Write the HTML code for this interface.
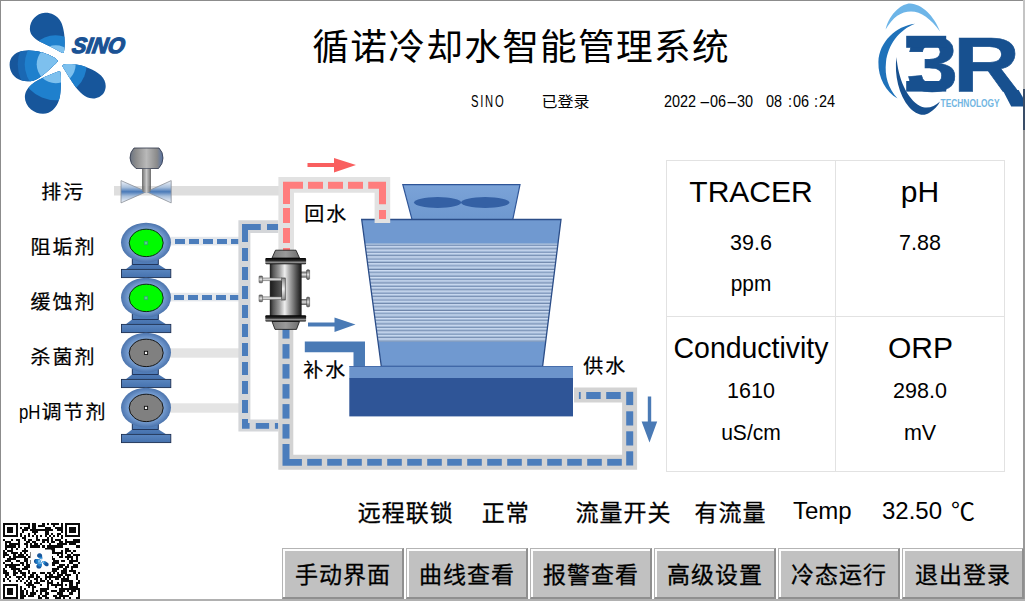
<!DOCTYPE html>
<html lang="zh-CN"><head><meta charset="utf-8"><title>循诺冷却水智能管理系统</title>
<style>
html,body{margin:0;padding:0;background:#fff;}
body{width:1025px;height:601px;overflow:hidden;position:relative;font-family:"Liberation Sans", "Noto Sans CJK SC", sans-serif;color:#000;}
#g{position:absolute;left:0;top:0;}
.t{position:absolute;white-space:nowrap;line-height:1;color:#000;}
.c{text-align:center;}
.k{-webkit-text-stroke:0.3px #000;}
.m{font-family:"Liberation Mono", "Noto Sans CJK SC", monospace;}
.btn{position:absolute;top:548px;height:51px;width:122px;box-sizing:border-box;background:#c1c1c1;
 border-top:1px solid #b4b4b4;border-left:1px solid #b4b4b4;border-right:2px solid #8f8f8f;border-bottom:2px solid #8f8f8f;
 box-shadow:inset 2px 2px 0 #fdfdfd;
 font-size:23px;letter-spacing:1px;line-height:1;text-align:center;white-space:nowrap;-webkit-text-stroke:0.3px #000;}
.btn span{position:absolute;left:1px;right:0;top:16px;transform:scaleY(0.97);transform-origin:50% 0;}
</style></head>
<body>
<svg id="g" width="1025" height="601" viewBox="0 0 1025 601">
<g stroke="#e2e2e2" stroke-width="1" fill="none"><rect x="666.5" y="160.5" width="338" height="311"/><line x1="835.5" y1="160.5" x2="835.5" y2="471.5"/><line x1="666.5" y1="316.5" x2="1004.5" y2="316.5"/></g>
<defs>
<linearGradient id="gAct" x1="0" x2="1" y1="0" y2="0"><stop offset="0" stop-color="#6a7382"/><stop offset="0.18" stop-color="#8c8c8c"/><stop offset="0.5" stop-color="#b9b9b9"/><stop offset="0.82" stop-color="#8a8a8a"/><stop offset="1" stop-color="#5672a4"/></linearGradient>
<linearGradient id="gStem" x1="0" x2="1" y1="0" y2="0"><stop offset="0" stop-color="#6e6e6e"/><stop offset="0.5" stop-color="#c8c8c8"/><stop offset="1" stop-color="#6e6e6e"/></linearGradient>
<linearGradient id="gBow" x1="0" x2="0" y1="0" y2="1"><stop offset="0" stop-color="#f2f5fa"/><stop offset="0.3" stop-color="#a9c0dc"/><stop offset="0.5" stop-color="#4a7ab8"/><stop offset="0.7" stop-color="#a9c0dc"/><stop offset="1" stop-color="#f2f5fa"/></linearGradient>
<radialGradient id="gPump" cx="0.5" cy="0.5" r="0.5"><stop offset="0" stop-color="#80a6d8"/><stop offset="0.7" stop-color="#789fd2"/><stop offset="0.9" stop-color="#5a82ba"/><stop offset="1" stop-color="#4c74ac"/></radialGradient>
<linearGradient id="gBase" x1="0" x2="0" y1="0" y2="1"><stop offset="0" stop-color="#5a86c0"/><stop offset="1" stop-color="#4571ad"/></linearGradient>
<linearGradient id="gHx" x1="0" x2="1" y1="0" y2="0"><stop offset="0" stop-color="#1c1c1c"/><stop offset="0.1" stop-color="#565656"/><stop offset="0.3" stop-color="#9c9c9c"/><stop offset="0.47" stop-color="#efefef"/><stop offset="0.6" stop-color="#b2b2b2"/><stop offset="0.85" stop-color="#4c4c4c"/><stop offset="1" stop-color="#141414"/></linearGradient>
<linearGradient id="gHxF" x1="0" x2="0" y1="0" y2="1"><stop offset="0" stop-color="#000"/><stop offset="0.45" stop-color="#2b2b2b"/><stop offset="0.7" stop-color="#9a9a9a"/><stop offset="1" stop-color="#000"/></linearGradient>
<linearGradient id="gHxC" x1="0" x2="1" y1="0" y2="0"><stop offset="0" stop-color="#7c7c7c"/><stop offset="0.5" stop-color="#9a9a9a"/><stop offset="1" stop-color="#6e6e6e"/></linearGradient><linearGradient id="gHxW" x1="0" x2="1" y1="0" y2="0"><stop offset="0" stop-color="#1e1e1e"/><stop offset="1" stop-color="#5a5a5a"/></linearGradient><linearGradient id="gHxS" x1="0" x2="0" y1="0" y2="1"><stop offset="0" stop-color="#8a8a8a"/><stop offset="0.5" stop-color="#f2f2f2"/><stop offset="1" stop-color="#8a8a8a"/></linearGradient>
<linearGradient id="gNoz" x1="0" x2="0" y1="0" y2="1"><stop offset="0" stop-color="#555"/><stop offset="0.5" stop-color="#e0e0e0"/><stop offset="1" stop-color="#555"/></linearGradient>

<linearGradient id="gHouse" x1="0" x2="0" y1="0" y2="1"><stop offset="0" stop-color="#7ba3d8"/><stop offset="1" stop-color="#6e98cf"/></linearGradient>
<clipPath id="cBody"><polygon points="361.7,219.5 561,219.5 542.6,366.3 381.3,366.3"/></clipPath>
</defs>
<rect x="114" y="186" width="165" height="9.5" fill="#dedede"/>
<rect x="170" y="348.3" width="69" height="9.4" fill="#e4e4e4"/>
<rect x="170" y="403.3" width="69" height="9.4" fill="#e4e4e4"/>
<rect x="170" y="236.8" width="69" height="8.6" fill="#e3e7ec"/>
<rect x="175.0" y="239.0" width="10.0" height="5" fill="#4b7dbc"/>
<rect x="189.0" y="239.0" width="10.0" height="5" fill="#4b7dbc"/>
<rect x="203.0" y="239.0" width="10.0" height="5" fill="#4b7dbc"/>
<rect x="217.0" y="239.0" width="10.0" height="5" fill="#4b7dbc"/>
<rect x="231.0" y="239.0" width="7.6" height="5" fill="#4b7dbc"/>
<rect x="170" y="292.8" width="69" height="8.6" fill="#e3e7ec"/>
<rect x="174.0" y="295.0" width="10.0" height="5" fill="#4b7dbc"/>
<rect x="188.0" y="295.0" width="10.0" height="5" fill="#4b7dbc"/>
<rect x="202.0" y="295.0" width="10.0" height="5" fill="#4b7dbc"/>
<rect x="216.0" y="295.0" width="10.0" height="5" fill="#4b7dbc"/>
<rect x="230.0" y="295.0" width="8.6" height="5" fill="#4b7dbc"/>
<path d="M238.4 220.2 H278.4 V233 H250.4 V419.4 H278.4 V431.6 H238.4 Z" fill="#d4d6d9"/>
<path d="M242 224 H260.8 V230 H248 V242 H242 Z" fill="#4b7dbc"/>
<rect x="267" y="224" width="11.2" height="6" fill="#4b7dbc"/>
<rect x="242" y="248.0" width="6" height="13" fill="#4b7dbc"/>
<rect x="242" y="267.0" width="6" height="13" fill="#4b7dbc"/>
<rect x="242" y="286.0" width="6" height="13" fill="#4b7dbc"/>
<rect x="242" y="305.0" width="6" height="13" fill="#4b7dbc"/>
<rect x="242" y="324.0" width="6" height="13" fill="#4b7dbc"/>
<rect x="242" y="343.0" width="6" height="13" fill="#4b7dbc"/>
<rect x="242" y="362.0" width="6" height="13" fill="#4b7dbc"/>
<rect x="242" y="381.0" width="6" height="13" fill="#4b7dbc"/>
<rect x="242" y="400.0" width="6" height="13" fill="#4b7dbc"/>
<path d="M242 419 H248 V423 H249.6 V428.8 H242 Z" fill="#4b7dbc"/>
<rect x="255.8" y="423" width="13.3" height="5.8" fill="#4b7dbc"/>
<rect x="274.9" y="423" width="3.4" height="5.8" fill="#4b7dbc"/>
<path d="M574 395 H629.6 V462.2 H285.8 V328" fill="none" stroke="#d3d3d3" stroke-width="15" stroke-linejoin="miter"/>
<rect x="578.9" y="392" width="1.8" height="7" fill="#4b7dbc"/>
<rect x="586.2" y="392" width="14.5" height="7" fill="#4b7dbc"/>
<rect x="606.2" y="392" width="14.5" height="7" fill="#4b7dbc"/>
<rect x="626.2" y="391.8" width="7" height="13.3" fill="#4b7dbc"/>
<rect x="626.2" y="411.3" width="7" height="14.2" fill="#4b7dbc"/>
<rect x="626.2" y="431.3" width="7" height="14.2" fill="#4b7dbc"/>
<rect x="626.2" y="451.3" width="7" height="14.2" fill="#4b7dbc"/>
<rect x="307.2" y="458.9" width="14.6" height="6.8" fill="#4b7dbc"/>
<rect x="327.2" y="458.9" width="14.6" height="6.8" fill="#4b7dbc"/>
<rect x="347.2" y="458.9" width="14.6" height="6.8" fill="#4b7dbc"/>
<rect x="367.2" y="458.9" width="14.6" height="6.8" fill="#4b7dbc"/>
<rect x="387.2" y="458.9" width="14.6" height="6.8" fill="#4b7dbc"/>
<rect x="407.2" y="458.9" width="14.6" height="6.8" fill="#4b7dbc"/>
<rect x="427.2" y="458.9" width="14.6" height="6.8" fill="#4b7dbc"/>
<rect x="447.2" y="458.9" width="14.6" height="6.8" fill="#4b7dbc"/>
<rect x="467.2" y="458.9" width="14.6" height="6.8" fill="#4b7dbc"/>
<rect x="487.2" y="458.9" width="14.6" height="6.8" fill="#4b7dbc"/>
<rect x="507.2" y="458.9" width="14.6" height="6.8" fill="#4b7dbc"/>
<rect x="527.2" y="458.9" width="14.6" height="6.8" fill="#4b7dbc"/>
<rect x="547.2" y="458.9" width="14.6" height="6.8" fill="#4b7dbc"/>
<rect x="567.2" y="458.9" width="14.6" height="6.8" fill="#4b7dbc"/>
<rect x="587.2" y="458.9" width="14.6" height="6.8" fill="#4b7dbc"/>
<rect x="607.2" y="458.9" width="14.6" height="6.8" fill="#4b7dbc"/>
<path d="M282.5 444.1 H289.5 V458.9 H301.9 V465.7 H282.5 Z" fill="#4b7dbc"/>
<rect x="282.5" y="424.1" width="7" height="14.5" fill="#4b7dbc"/>
<rect x="282.5" y="404.1" width="7" height="14.5" fill="#4b7dbc"/>
<rect x="282.5" y="384.1" width="7" height="14.5" fill="#4b7dbc"/>
<rect x="282.5" y="364.1" width="7" height="14.5" fill="#4b7dbc"/>
<rect x="282.5" y="344.1" width="7" height="14.5" fill="#4b7dbc"/>
<rect x="282.5" y="324.1" width="7" height="14.5" fill="#4b7dbc"/>
<path d="M304.8 341.5 H365 V367 H353.5 V352.3 H304.8 Z" fill="#4a7ab5"/>
<path d="M307.5 163 H334 V158 L356 165 L334 172.5 V167 H307.5 Z" fill="#f95f5f"/>
<path d="M308 322.6 H334.5 V317.4 L355.5 324.6 L334.5 332 V326.4 H308 Z" fill="#4a7ab5"/>
<path d="M647.8 396.5 H651.2 V421.5 H657.2 L649.5 442.5 L641.6 421.5 H647.8 Z" fill="#4a7ab5"/>
<path d="M134 148 H159 Q163 152 163 158 Q163 164 158.5 168.5 H136 Q130 164 130 158 Q130 152 134 148 Z" fill="url(#gAct)" stroke="#2c3448" stroke-width="0.8"/>
<rect x="142" y="168.8" width="9" height="23" fill="url(#gStem)"/>
<path d="M121 180.6 L146.5 191.7 L121 202.9 Z M171.2 180.6 L146.5 191.7 L171.2 202.9 Z" fill="url(#gBow)" stroke="#8a8f98" stroke-width="0.8"/>
<rect x="142.6" y="186" width="7.8" height="6" fill="url(#gStem)"/>
<g transform="translate(0,0)">
<path d="M132 258 H158.6 V264.5 L166.5 269.4 H125.5 L132 264.5 Z" fill="url(#gBase)"/>
<path d="M132.3 259 V264.5 H158.3 V259" fill="none" stroke="#1c2f52" stroke-width="0.9"/>
<rect x="121.5" y="269.4" width="49.3" height="8.2" fill="url(#gBase)" stroke="#1c2f52" stroke-width="0.9"/>
<ellipse cx="146" cy="242.6" rx="25" ry="19.8" fill="url(#gPump)"/>
<ellipse cx="146.2" cy="242.9" rx="17" ry="13.7" fill="#00fb00" stroke="#0c2a10" stroke-width="1"/>
<rect x="144.3" y="241.3" width="3.4" height="3.4" fill="#55d08a" stroke="#2fa66a" stroke-width="0.7"/>
</g>
<g transform="translate(0,55)">
<path d="M132 258 H158.6 V264.5 L166.5 269.4 H125.5 L132 264.5 Z" fill="url(#gBase)"/>
<path d="M132.3 259 V264.5 H158.3 V259" fill="none" stroke="#1c2f52" stroke-width="0.9"/>
<rect x="121.5" y="269.4" width="49.3" height="8.2" fill="url(#gBase)" stroke="#1c2f52" stroke-width="0.9"/>
<ellipse cx="146" cy="242.6" rx="25" ry="19.8" fill="url(#gPump)"/>
<ellipse cx="146.2" cy="242.9" rx="17" ry="13.7" fill="#00fb00" stroke="#0c2a10" stroke-width="1"/>
<rect x="144.3" y="241.3" width="3.4" height="3.4" fill="#55d08a" stroke="#2fa66a" stroke-width="0.7"/>
</g>
<g transform="translate(0,110)">
<path d="M132 258 H158.6 V264.5 L166.5 269.4 H125.5 L132 264.5 Z" fill="url(#gBase)"/>
<path d="M132.3 259 V264.5 H158.3 V259" fill="none" stroke="#1c2f52" stroke-width="0.9"/>
<rect x="121.5" y="269.4" width="49.3" height="8.2" fill="url(#gBase)" stroke="#1c2f52" stroke-width="0.9"/>
<ellipse cx="146" cy="242.6" rx="25" ry="19.8" fill="url(#gPump)"/>
<ellipse cx="146.2" cy="242.9" rx="17" ry="13.7" fill="#808080" stroke="#151515" stroke-width="1"/>
<rect x="144.4" y="241.3" width="3.2" height="3.2" fill="#f4f4f4" stroke="#111" stroke-width="0.9"/>
</g>
<g transform="translate(0,165)">
<path d="M132 258 H158.6 V264.5 L166.5 269.4 H125.5 L132 264.5 Z" fill="url(#gBase)"/>
<path d="M132.3 259 V264.5 H158.3 V259" fill="none" stroke="#1c2f52" stroke-width="0.9"/>
<rect x="121.5" y="269.4" width="49.3" height="8.2" fill="url(#gBase)" stroke="#1c2f52" stroke-width="0.9"/>
<ellipse cx="146" cy="242.6" rx="25" ry="19.8" fill="url(#gPump)"/>
<ellipse cx="146.2" cy="242.9" rx="17" ry="13.7" fill="#808080" stroke="#151515" stroke-width="1"/>
<rect x="144.4" y="241.3" width="3.2" height="3.2" fill="#f4f4f4" stroke="#111" stroke-width="0.9"/>
</g>
<polygon points="402.8,184.6 520,184.6 512.8,219.5 412,219.5" fill="url(#gHouse)" stroke="#2f5597" stroke-width="1.2"/>
<ellipse cx="437.6" cy="202.5" rx="23.6" ry="5.4" fill="#3460a4"/><ellipse cx="485.2" cy="202.5" rx="24.2" ry="5.4" fill="#3460a4"/>
<g clip-path="url(#cBody)">
<rect x="355" y="219" width="215" height="25" fill="#7099d0"/>
<rect x="355" y="243.3" width="215" height="99" fill="#a3b9d7"/>
<rect x="355" y="245.12" width="215" height="0.95" fill="#7c94b8"/>
<rect x="355" y="246.07" width="215" height="1.2" fill="#c6d7ee"/>
<rect x="355" y="248.50" width="215" height="1.0" fill="#6c84a8"/>
<rect x="355" y="249.50" width="215" height="1.2" fill="#cddcf2"/>
<rect x="355" y="251.95" width="215" height="0.95" fill="#7c94b8"/>
<rect x="355" y="252.90" width="215" height="1.2" fill="#c6d7ee"/>
<rect x="355" y="255.33" width="215" height="1.0" fill="#6c84a8"/>
<rect x="355" y="256.33" width="215" height="1.2" fill="#cddcf2"/>
<rect x="355" y="258.78" width="215" height="0.95" fill="#7c94b8"/>
<rect x="355" y="259.73" width="215" height="1.2" fill="#c6d7ee"/>
<rect x="355" y="262.16" width="215" height="1.0" fill="#6c84a8"/>
<rect x="355" y="263.16" width="215" height="1.2" fill="#cddcf2"/>
<rect x="355" y="265.61" width="215" height="0.95" fill="#7c94b8"/>
<rect x="355" y="266.56" width="215" height="1.2" fill="#c6d7ee"/>
<rect x="355" y="268.99" width="215" height="1.0" fill="#6c84a8"/>
<rect x="355" y="269.99" width="215" height="1.2" fill="#cddcf2"/>
<rect x="355" y="272.44" width="215" height="0.95" fill="#7c94b8"/>
<rect x="355" y="273.39" width="215" height="1.2" fill="#c6d7ee"/>
<rect x="355" y="275.82" width="215" height="1.0" fill="#6c84a8"/>
<rect x="355" y="276.82" width="215" height="1.2" fill="#cddcf2"/>
<rect x="355" y="279.27" width="215" height="0.95" fill="#7c94b8"/>
<rect x="355" y="280.22" width="215" height="1.2" fill="#c6d7ee"/>
<rect x="355" y="282.65" width="215" height="1.0" fill="#6c84a8"/>
<rect x="355" y="283.65" width="215" height="1.2" fill="#cddcf2"/>
<rect x="355" y="286.10" width="215" height="0.95" fill="#7c94b8"/>
<rect x="355" y="287.05" width="215" height="1.2" fill="#c6d7ee"/>
<rect x="355" y="289.48" width="215" height="1.0" fill="#6c84a8"/>
<rect x="355" y="290.48" width="215" height="1.2" fill="#cddcf2"/>
<rect x="355" y="292.93" width="215" height="0.95" fill="#7c94b8"/>
<rect x="355" y="293.88" width="215" height="1.2" fill="#c6d7ee"/>
<rect x="355" y="296.31" width="215" height="1.0" fill="#6c84a8"/>
<rect x="355" y="297.31" width="215" height="1.2" fill="#cddcf2"/>
<rect x="355" y="299.76" width="215" height="0.95" fill="#7c94b8"/>
<rect x="355" y="300.71" width="215" height="1.2" fill="#c6d7ee"/>
<rect x="355" y="303.14" width="215" height="1.0" fill="#6c84a8"/>
<rect x="355" y="304.14" width="215" height="1.2" fill="#cddcf2"/>
<rect x="355" y="306.59" width="215" height="0.95" fill="#7c94b8"/>
<rect x="355" y="307.54" width="215" height="1.2" fill="#c6d7ee"/>
<rect x="355" y="309.97" width="215" height="1.0" fill="#6c84a8"/>
<rect x="355" y="310.97" width="215" height="1.2" fill="#cddcf2"/>
<rect x="355" y="313.42" width="215" height="0.95" fill="#7c94b8"/>
<rect x="355" y="314.37" width="215" height="1.2" fill="#c6d7ee"/>
<rect x="355" y="316.80" width="215" height="1.0" fill="#6c84a8"/>
<rect x="355" y="317.80" width="215" height="1.2" fill="#cddcf2"/>
<rect x="355" y="320.25" width="215" height="0.95" fill="#7c94b8"/>
<rect x="355" y="321.20" width="215" height="1.2" fill="#c6d7ee"/>
<rect x="355" y="323.63" width="215" height="1.0" fill="#6c84a8"/>
<rect x="355" y="324.63" width="215" height="1.2" fill="#cddcf2"/>
<rect x="355" y="327.08" width="215" height="0.95" fill="#7c94b8"/>
<rect x="355" y="328.03" width="215" height="1.2" fill="#c6d7ee"/>
<rect x="355" y="330.46" width="215" height="1.0" fill="#6c84a8"/>
<rect x="355" y="331.46" width="215" height="1.2" fill="#cddcf2"/>
<rect x="355" y="333.91" width="215" height="0.95" fill="#7c94b8"/>
<rect x="355" y="334.86" width="215" height="1.2" fill="#c6d7ee"/>
<rect x="355" y="337.29" width="215" height="1.0" fill="#6c84a8"/>
<rect x="355" y="338.29" width="215" height="1.2" fill="#cddcf2"/>
<rect x="355" y="340.74" width="215" height="0.95" fill="#7c94b8"/>
<rect x="355" y="341.8" width="215" height="25" fill="#7099d0"/>
</g>
<polygon points="361.7,219.5 561,219.5 542.6,366.3 381.3,366.3" fill="none" stroke="#2b4d88" stroke-width="1.3"/>
<rect x="349.3" y="366.3" width="223.7" height="12" fill="#6c94cb"/>
<rect x="349.3" y="366" width="223.7" height="0.9" fill="#3e66a6"/>
<rect x="349.3" y="378" width="223.7" height="38.4" fill="#2f5597"/>
<path d="M286.2 251 V184.9 H382.4 V223" fill="none" stroke="#e2e2e2" stroke-width="15.6" stroke-linejoin="miter"/>
<path d="M283 181.8 H303 V188.8 H290 V204 H283 Z" fill="#ff7d7d"/>
<rect x="308" y="181.8" width="15" height="7" fill="#ff7d7d"/>
<rect x="328" y="181.8" width="15" height="7" fill="#ff7d7d"/>
<rect x="348" y="181.8" width="15" height="7" fill="#ff7d7d"/>
<path d="M368.2 181.8 H386 V204.3 H379 V188.8 H368.2 Z" fill="#ff7d7d"/>
<rect x="379" y="210" width="7" height="9" fill="#ff7d7d"/>
<rect x="283" y="208" width="7" height="15" fill="#ff7d7d"/>
<rect x="283" y="228" width="7" height="15" fill="#ff7d7d"/>
<rect x="283" y="248" width="7" height="4" fill="#ff7d7d"/>
<path d="M275.5 250.2 H296 L299.5 258 H272 Z" fill="url(#gHxC)" stroke="#111" stroke-width="0.8"/>
<path d="M272 321.5 H299.5 L296.5 329.4 H275 Z" fill="url(#gHxC)" stroke="#111" stroke-width="0.8"/>
<rect x="301" y="271.6" width="7" height="6" fill="url(#gNoz)"/>
<rect x="306.6" y="269.8" width="3" height="9.6" rx="0.8" fill="url(#gNoz)" stroke="#333" stroke-width="0.5"/>
<rect x="301" y="299" width="7" height="6" fill="url(#gNoz)"/>
<rect x="306.6" y="297.2" width="3" height="9.6" rx="0.8" fill="url(#gNoz)" stroke="#333" stroke-width="0.5"/>
<rect x="269.8" y="263.5" width="31.8" height="52.5" fill="url(#gHx)"/>
<rect x="265.3" y="258" width="40.8" height="6.2" rx="1" fill="url(#gHxF)"/>
<rect x="265.3" y="315.3" width="40.8" height="6.2" rx="1" fill="url(#gHxF)"/>
<rect x="270.6" y="279" width="11.4" height="20" fill="url(#gHxW)"/>
<rect x="281.6" y="278" width="3.6" height="22" fill="url(#gHxS)" stroke="#222" stroke-width="0.6"/>
<rect x="262" y="278.0" width="19.6" height="2.8" fill="#d4d4d4" stroke="#4a4a4a" stroke-width="0.5"/>
<rect x="259" y="276.0" width="3.6" height="6.8" rx="0.8" fill="url(#gNoz)" stroke="#444" stroke-width="0.5"/>
<rect x="262" y="296.90000000000003" width="19.6" height="2.8" fill="#d4d4d4" stroke="#4a4a4a" stroke-width="0.5"/>
<rect x="259" y="294.90000000000003" width="3.6" height="6.8" rx="0.8" fill="url(#gNoz)" stroke="#444" stroke-width="0.5"/>
<g transform="translate(0,0) scale(1.0)">
<defs>
<clipPath id="p0"><path d="M63.9 51.9 C65.5 45 65 30 61 22 C57 14.5 50 12.5 45 12.7 C36 13.2 29.5 21 29.9 29.5 C30.2 36 36 40 43.3 43.3 C50 46.5 58 50.5 61.5 52.6 C62.8 53.3 63.7 52.8 63.9 51.9 Z"/></clipPath>
<clipPath id="p1"><path d="M57.6 60.5 C57 58.5 50 55 43.3 52.8 C36 50.5 28 49.8 22.2 50.9 C14 52.5 9.5 58 9.6 65 C9.8 72 14 78 21 80.3 C27 82.2 33 81.5 38 78.5 C45 74 52 67 57 62.2 C57.7 61.5 57.8 61 57.6 60.5 Z"/></clipPath>
<clipPath id="p2"><path d="M60.3 71.8 C61.2 75 61.3 88 60 96 C58.8 103 55 110 48.5 112.8 C43 115 36 113.5 31 109.5 C26 105 24 99 25.2 94 C26.5 88.5 32 83.5 38 80.3 C44 77 53 73.5 58.2 71.5 C59.3 71 60 71.2 60.3 71.8 Z"/></clipPath>
<clipPath id="p3"><path d="M62.5 65.5 C63 64 68 63.8 74 64.3 C84 65.2 95 70 101 75.5 C106 80.5 107 87 104 92.5 C101 97.5 95 99.5 89.5 98 C83 96.3 78 90.5 73.5 84 C69.5 78 65 70.5 62.8 67 C62.4 66.4 62.3 66 62.5 65.5 Z"/></clipPath>
</defs>
<g clip-path="url(#p0)">
<rect x="0" y="0" width="120" height="120" fill="#17569b"/>
<circle cx="55.7" cy="64.3" r="29" fill="#1f80cd"/>
<circle cx="55.7" cy="64.3" r="19" fill="#7dc0ee"/>
</g>
<g clip-path="url(#p1)">
<rect x="0" y="0" width="120" height="120" fill="#17569b"/>
<circle cx="55.7" cy="64.3" r="38" fill="#1a68b3"/>
<circle cx="55.7" cy="64.3" r="31" fill="#1f80cd"/>
<circle cx="55.7" cy="64.3" r="19" fill="#7dc0ee"/>
</g>
<g clip-path="url(#p2)">
<rect x="0" y="0" width="120" height="120" fill="#17569b"/>
<circle cx="55.7" cy="64.3" r="36" fill="#1f80cd"/>
<circle cx="55.7" cy="64.3" r="19" fill="#7dc0ee"/>
</g>
<g clip-path="url(#p3)">
<rect x="0" y="0" width="120" height="120" fill="#17569b"/>
<circle cx="55.7" cy="64.3" r="31" fill="#1f80cd"/>
<circle cx="55.7" cy="64.3" r="20" fill="#7dc0ee"/>
</g>
</g>
<g transform="translate(71.3,53.2) skewX(-9)"><text x="0" y="0" font-family="'Liberation Sans', sans-serif" font-weight="bold" font-style="italic" font-size="22" fill="#1a5294" stroke="#1a5294" stroke-width="1.3" textLength="52.5" lengthAdjust="spacingAndGlyphs">SINO</text></g>
<path d="M885.6 29.5 C890 12 903 3.5 910 3.6 C922 4 934 16 940 31.5 C931 19 921 11.5 911 11.5 C901 11.5 893 17 885.6 29.5 Z" fill="#6db5e8"/>
<path d="M915 23.8 C896 26 879 42 878.4 62 C878 78 886 92 897.5 98.5 C888 88 884.5 76 886 62 C888 45 899 30 915 23.8 Z" fill="#1f72ba"/>
<path d="M896.5 57 C894 75 899 95 909 107 C915 114 923 117 929 113 C934 110 938 106 940 101.5 C934 107 927 109.5 920 106 C907 99 898 78 896.5 57 Z" fill="#17508f"/>
<g transform="translate(906.5,91.2) scale(1.18,1)"><text x="0" y="0" font-family="'Liberation Sans', sans-serif" font-weight="bold" font-size="78.7" letter-spacing="-4.4" fill="#17508f" stroke="#17508f" stroke-width="0.6">3R</text></g>
<rect x="906.2" y="35.8" width="40" height="12" fill="#17508f"/>
<rect x="906.2" y="81" width="40" height="10.6" fill="#17508f"/>
<path d="M1002.6 90 L1018.6 90 L1023 97.5 L1023 106.6 L1011.2 106.6 Z" fill="#17508f"/>
<text x="940.6" y="106.5" font-family="'Liberation Sans', sans-serif" font-weight="bold" font-size="11.4" fill="#72b6e2" textLength="59" lengthAdjust="spacingAndGlyphs">TECHNOLOGY</text>
<rect x="2.1" y="522.0" width="78.6" height="76.6" fill="#fff"/>
<path d="M3.10 523.00h14.49v2.04h-14.49zM19.66 523.00h10.35v2.04h-10.35zM32.08 523.00h4.14v2.04h-4.14zM42.44 523.00h2.07v2.04h-2.07zM46.58 523.00h2.07v2.04h-2.07zM50.72 523.00h8.28v2.04h-8.28zM61.07 523.00h2.07v2.04h-2.07zM65.21 523.00h14.49v2.04h-14.49zM3.10 525.04h2.07v2.04h-2.07zM15.52 525.04h2.07v2.04h-2.07zM27.94 525.04h2.07v2.04h-2.07zM32.08 525.04h4.14v2.04h-4.14zM38.29 525.04h6.21v2.04h-6.21zM52.79 525.04h2.07v2.04h-2.07zM61.07 525.04h2.07v2.04h-2.07zM65.21 525.04h2.07v2.04h-2.07zM77.63 525.04h2.07v2.04h-2.07zM3.10 527.09h2.07v2.04h-2.07zM7.24 527.09h6.21v2.04h-6.21zM15.52 527.09h2.07v2.04h-2.07zM19.66 527.09h2.07v2.04h-2.07zM23.80 527.09h6.21v2.04h-6.21zM32.08 527.09h4.14v2.04h-4.14zM44.51 527.09h6.21v2.04h-6.21zM54.86 527.09h8.28v2.04h-8.28zM65.21 527.09h2.07v2.04h-2.07zM69.35 527.09h6.21v2.04h-6.21zM77.63 527.09h2.07v2.04h-2.07zM3.10 529.13h2.07v2.04h-2.07zM7.24 529.13h6.21v2.04h-6.21zM15.52 529.13h2.07v2.04h-2.07zM21.73 529.13h6.21v2.04h-6.21zM30.01 529.13h22.77v2.04h-22.77zM56.93 529.13h6.21v2.04h-6.21zM65.21 529.13h2.07v2.04h-2.07zM69.35 529.13h6.21v2.04h-6.21zM77.63 529.13h2.07v2.04h-2.07zM3.10 531.17h2.07v2.04h-2.07zM7.24 531.17h6.21v2.04h-6.21zM15.52 531.17h2.07v2.04h-2.07zM21.73 531.17h2.07v2.04h-2.07zM32.08 531.17h6.21v2.04h-6.21zM44.51 531.17h4.14v2.04h-4.14zM61.07 531.17h2.07v2.04h-2.07zM65.21 531.17h2.07v2.04h-2.07zM69.35 531.17h6.21v2.04h-6.21zM77.63 531.17h2.07v2.04h-2.07zM3.10 533.22h2.07v2.04h-2.07zM15.52 533.22h2.07v2.04h-2.07zM19.66 533.22h2.07v2.04h-2.07zM27.94 533.22h2.07v2.04h-2.07zM34.15 533.22h2.07v2.04h-2.07zM44.51 533.22h4.14v2.04h-4.14zM50.72 533.22h2.07v2.04h-2.07zM56.93 533.22h4.14v2.04h-4.14zM65.21 533.22h2.07v2.04h-2.07zM77.63 533.22h2.07v2.04h-2.07zM3.10 535.26h14.49v2.04h-14.49zM19.66 535.26h2.07v2.04h-2.07zM23.80 535.26h2.07v2.04h-2.07zM27.94 535.26h2.07v2.04h-2.07zM32.08 535.26h2.07v2.04h-2.07zM36.22 535.26h2.07v2.04h-2.07zM40.36 535.26h2.07v2.04h-2.07zM44.51 535.26h2.07v2.04h-2.07zM48.65 535.26h2.07v2.04h-2.07zM52.79 535.26h2.07v2.04h-2.07zM56.93 535.26h2.07v2.04h-2.07zM61.07 535.26h2.07v2.04h-2.07zM65.21 535.26h14.49v2.04h-14.49zM21.73 537.30h4.14v2.04h-4.14zM36.22 537.30h2.07v2.04h-2.07zM46.58 537.30h2.07v2.04h-2.07zM50.72 537.30h2.07v2.04h-2.07zM61.07 537.30h2.07v2.04h-2.07zM3.10 539.35h2.07v2.04h-2.07zM11.38 539.35h2.07v2.04h-2.07zM15.52 539.35h4.14v2.04h-4.14zM23.80 539.35h2.07v2.04h-2.07zM27.94 539.35h4.14v2.04h-4.14zM36.22 539.35h4.14v2.04h-4.14zM42.44 539.35h6.21v2.04h-6.21zM50.72 539.35h2.07v2.04h-2.07zM54.86 539.35h6.21v2.04h-6.21zM65.21 539.35h2.07v2.04h-2.07zM73.49 539.35h6.21v2.04h-6.21zM5.17 541.39h6.21v2.04h-6.21zM17.59 541.39h2.07v2.04h-2.07zM25.87 541.39h4.14v2.04h-4.14zM32.08 541.39h4.14v2.04h-4.14zM42.44 541.39h2.07v2.04h-2.07zM46.58 541.39h2.07v2.04h-2.07zM50.72 541.39h4.14v2.04h-4.14zM59.00 541.39h4.14v2.04h-4.14zM65.21 541.39h14.49v2.04h-14.49zM5.17 543.43h2.07v2.04h-2.07zM9.31 543.43h10.35v2.04h-10.35zM23.80 543.43h4.14v2.04h-4.14zM30.01 543.43h2.07v2.04h-2.07zM34.15 543.43h4.14v2.04h-4.14zM40.36 543.43h2.07v2.04h-2.07zM48.65 543.43h2.07v2.04h-2.07zM56.93 543.43h10.35v2.04h-10.35zM69.35 543.43h6.21v2.04h-6.21zM5.17 545.48h10.35v2.04h-10.35zM17.59 545.48h2.07v2.04h-2.07zM25.87 545.48h2.07v2.04h-2.07zM30.01 545.48h10.35v2.04h-10.35zM42.44 545.48h2.07v2.04h-2.07zM46.58 545.48h16.56v2.04h-16.56zM75.56 545.48h4.14v2.04h-4.14zM5.17 547.52h2.07v2.04h-2.07zM11.38 547.52h2.07v2.04h-2.07zM15.52 547.52h2.07v2.04h-2.07zM23.80 547.52h2.07v2.04h-2.07zM44.51 547.52h10.35v2.04h-10.35zM65.21 547.52h4.14v2.04h-4.14zM3.10 549.56h2.07v2.04h-2.07zM7.24 549.56h6.21v2.04h-6.21zM21.73 549.56h6.21v2.04h-6.21zM36.22 549.56h6.21v2.04h-6.21zM44.51 549.56h2.07v2.04h-2.07zM48.65 549.56h6.21v2.04h-6.21zM61.07 549.56h2.07v2.04h-2.07zM65.21 549.56h6.21v2.04h-6.21zM73.49 549.56h2.07v2.04h-2.07zM3.10 551.61h4.14v2.04h-4.14zM11.38 551.61h6.21v2.04h-6.21zM19.66 551.61h2.07v2.04h-2.07zM23.80 551.61h2.07v2.04h-2.07zM30.01 551.61h2.07v2.04h-2.07zM40.36 551.61h2.07v2.04h-2.07zM44.51 551.61h18.63v2.04h-18.63zM65.21 551.61h2.07v2.04h-2.07zM71.42 551.61h2.07v2.04h-2.07zM3.10 553.65h6.21v2.04h-6.21zM13.45 553.65h2.07v2.04h-2.07zM17.59 553.65h6.21v2.04h-6.21zM25.87 553.65h2.07v2.04h-2.07zM30.01 553.65h4.14v2.04h-4.14zM36.22 553.65h4.14v2.04h-4.14zM56.93 553.65h2.07v2.04h-2.07zM61.07 553.65h2.07v2.04h-2.07zM67.28 553.65h4.14v2.04h-4.14zM73.49 553.65h6.21v2.04h-6.21zM3.10 555.69h2.07v2.04h-2.07zM9.31 555.69h2.07v2.04h-2.07zM13.45 555.69h12.42v2.04h-12.42zM27.94 555.69h4.14v2.04h-4.14zM36.22 555.69h16.56v2.04h-16.56zM59.00 555.69h4.14v2.04h-4.14zM65.21 555.69h8.28v2.04h-8.28zM75.56 555.69h2.07v2.04h-2.07zM7.24 557.74h8.28v2.04h-8.28zM23.80 557.74h4.14v2.04h-4.14zM32.08 557.74h2.07v2.04h-2.07zM36.22 557.74h4.14v2.04h-4.14zM48.65 557.74h6.21v2.04h-6.21zM67.28 557.74h2.07v2.04h-2.07zM71.42 557.74h2.07v2.04h-2.07zM75.56 557.74h2.07v2.04h-2.07zM5.17 559.78h6.21v2.04h-6.21zM15.52 559.78h4.14v2.04h-4.14zM23.80 559.78h4.14v2.04h-4.14zM30.01 559.78h6.21v2.04h-6.21zM42.44 559.78h6.21v2.04h-6.21zM52.79 559.78h6.21v2.04h-6.21zM61.07 559.78h4.14v2.04h-4.14zM69.35 559.78h8.28v2.04h-8.28zM3.10 561.82h2.07v2.04h-2.07zM11.38 561.82h2.07v2.04h-2.07zM19.66 561.82h4.14v2.04h-4.14zM25.87 561.82h2.07v2.04h-2.07zM30.01 561.82h8.28v2.04h-8.28zM42.44 561.82h6.21v2.04h-6.21zM50.72 561.82h8.28v2.04h-8.28zM69.35 561.82h4.14v2.04h-4.14zM77.63 561.82h2.07v2.04h-2.07zM5.17 563.86h14.49v2.04h-14.49zM21.73 563.86h2.07v2.04h-2.07zM25.87 563.86h4.14v2.04h-4.14zM34.15 563.86h8.28v2.04h-8.28zM44.51 563.86h4.14v2.04h-4.14zM50.72 563.86h4.14v2.04h-4.14zM59.00 563.86h6.21v2.04h-6.21zM67.28 563.86h2.07v2.04h-2.07zM73.49 563.86h4.14v2.04h-4.14zM5.17 565.91h2.07v2.04h-2.07zM9.31 565.91h6.21v2.04h-6.21zM23.80 565.91h6.21v2.04h-6.21zM34.15 565.91h8.28v2.04h-8.28zM44.51 565.91h2.07v2.04h-2.07zM56.93 565.91h6.21v2.04h-6.21zM65.21 565.91h4.14v2.04h-4.14zM71.42 565.91h6.21v2.04h-6.21zM3.10 567.95h2.07v2.04h-2.07zM11.38 567.95h8.28v2.04h-8.28zM21.73 567.95h6.21v2.04h-6.21zM38.29 567.95h2.07v2.04h-2.07zM42.44 567.95h2.07v2.04h-2.07zM46.58 567.95h2.07v2.04h-2.07zM50.72 567.95h8.28v2.04h-8.28zM63.14 567.95h4.14v2.04h-4.14zM71.42 567.95h2.07v2.04h-2.07zM3.10 569.99h4.14v2.04h-4.14zM13.45 569.99h2.07v2.04h-2.07zM17.59 569.99h4.14v2.04h-4.14zM27.94 569.99h2.07v2.04h-2.07zM32.08 569.99h4.14v2.04h-4.14zM40.36 569.99h2.07v2.04h-2.07zM46.58 569.99h10.35v2.04h-10.35zM61.07 569.99h6.21v2.04h-6.21zM69.35 569.99h6.21v2.04h-6.21zM3.10 572.04h6.21v2.04h-6.21zM13.45 572.04h4.14v2.04h-4.14zM19.66 572.04h6.21v2.04h-6.21zM27.94 572.04h2.07v2.04h-2.07zM32.08 572.04h4.14v2.04h-4.14zM40.36 572.04h4.14v2.04h-4.14zM46.58 572.04h4.14v2.04h-4.14zM52.79 572.04h2.07v2.04h-2.07zM56.93 572.04h2.07v2.04h-2.07zM61.07 572.04h6.21v2.04h-6.21zM73.49 572.04h2.07v2.04h-2.07zM77.63 572.04h2.07v2.04h-2.07zM5.17 574.08h4.14v2.04h-4.14zM13.45 574.08h2.07v2.04h-2.07zM21.73 574.08h4.14v2.04h-4.14zM30.01 574.08h4.14v2.04h-4.14zM36.22 574.08h2.07v2.04h-2.07zM44.51 574.08h2.07v2.04h-2.07zM48.65 574.08h4.14v2.04h-4.14zM56.93 574.08h6.21v2.04h-6.21zM65.21 574.08h6.21v2.04h-6.21zM75.56 574.08h2.07v2.04h-2.07zM5.17 576.12h2.07v2.04h-2.07zM9.31 576.12h2.07v2.04h-2.07zM15.52 576.12h6.21v2.04h-6.21zM23.80 576.12h2.07v2.04h-2.07zM27.94 576.12h6.21v2.04h-6.21zM36.22 576.12h4.14v2.04h-4.14zM44.51 576.12h16.56v2.04h-16.56zM63.14 576.12h2.07v2.04h-2.07zM67.28 576.12h2.07v2.04h-2.07zM75.56 576.12h2.07v2.04h-2.07zM3.10 578.17h2.07v2.04h-2.07zM7.24 578.17h2.07v2.04h-2.07zM17.59 578.17h2.07v2.04h-2.07zM21.73 578.17h2.07v2.04h-2.07zM27.94 578.17h2.07v2.04h-2.07zM34.15 578.17h4.14v2.04h-4.14zM40.36 578.17h2.07v2.04h-2.07zM44.51 578.17h2.07v2.04h-2.07zM48.65 578.17h2.07v2.04h-2.07zM54.86 578.17h4.14v2.04h-4.14zM61.07 578.17h8.28v2.04h-8.28zM75.56 578.17h2.07v2.04h-2.07zM3.10 580.21h2.07v2.04h-2.07zM9.31 580.21h2.07v2.04h-2.07zM15.52 580.21h2.07v2.04h-2.07zM19.66 580.21h2.07v2.04h-2.07zM25.87 580.21h2.07v2.04h-2.07zM30.01 580.21h2.07v2.04h-2.07zM36.22 580.21h2.07v2.04h-2.07zM40.36 580.21h4.14v2.04h-4.14zM46.58 580.21h2.07v2.04h-2.07zM50.72 580.21h2.07v2.04h-2.07zM61.07 580.21h12.42v2.04h-12.42zM77.63 580.21h2.07v2.04h-2.07zM23.80 582.25h2.07v2.04h-2.07zM27.94 582.25h4.14v2.04h-4.14zM34.15 582.25h6.21v2.04h-6.21zM46.58 582.25h6.21v2.04h-6.21zM56.93 582.25h2.07v2.04h-2.07zM61.07 582.25h2.07v2.04h-2.07zM69.35 582.25h4.14v2.04h-4.14zM75.56 582.25h4.14v2.04h-4.14zM3.10 584.30h14.49v2.04h-14.49zM25.87 584.30h8.28v2.04h-8.28zM40.36 584.30h2.07v2.04h-2.07zM46.58 584.30h2.07v2.04h-2.07zM50.72 584.30h12.42v2.04h-12.42zM65.21 584.30h2.07v2.04h-2.07zM69.35 584.30h4.14v2.04h-4.14zM75.56 584.30h2.07v2.04h-2.07zM3.10 586.34h2.07v2.04h-2.07zM15.52 586.34h2.07v2.04h-2.07zM19.66 586.34h2.07v2.04h-2.07zM27.94 586.34h2.07v2.04h-2.07zM32.08 586.34h4.14v2.04h-4.14zM46.58 586.34h2.07v2.04h-2.07zM54.86 586.34h2.07v2.04h-2.07zM61.07 586.34h2.07v2.04h-2.07zM69.35 586.34h8.28v2.04h-8.28zM3.10 588.38h2.07v2.04h-2.07zM7.24 588.38h6.21v2.04h-6.21zM15.52 588.38h2.07v2.04h-2.07zM19.66 588.38h2.07v2.04h-2.07zM23.80 588.38h2.07v2.04h-2.07zM32.08 588.38h2.07v2.04h-2.07zM40.36 588.38h8.28v2.04h-8.28zM59.00 588.38h20.70v2.04h-20.70zM3.10 590.43h2.07v2.04h-2.07zM7.24 590.43h6.21v2.04h-6.21zM15.52 590.43h2.07v2.04h-2.07zM19.66 590.43h4.14v2.04h-4.14zM25.87 590.43h2.07v2.04h-2.07zM32.08 590.43h2.07v2.04h-2.07zM36.22 590.43h2.07v2.04h-2.07zM40.36 590.43h6.21v2.04h-6.21zM50.72 590.43h6.21v2.04h-6.21zM59.00 590.43h6.21v2.04h-6.21zM67.28 590.43h2.07v2.04h-2.07zM71.42 590.43h4.14v2.04h-4.14zM77.63 590.43h2.07v2.04h-2.07zM3.10 592.47h2.07v2.04h-2.07zM7.24 592.47h6.21v2.04h-6.21zM15.52 592.47h2.07v2.04h-2.07zM19.66 592.47h4.14v2.04h-4.14zM25.87 592.47h2.07v2.04h-2.07zM30.01 592.47h6.21v2.04h-6.21zM40.36 592.47h2.07v2.04h-2.07zM44.51 592.47h4.14v2.04h-4.14zM56.93 592.47h6.21v2.04h-6.21zM69.35 592.47h4.14v2.04h-4.14zM77.63 592.47h2.07v2.04h-2.07zM3.10 594.51h2.07v2.04h-2.07zM15.52 594.51h2.07v2.04h-2.07zM19.66 594.51h6.21v2.04h-6.21zM27.94 594.51h6.21v2.04h-6.21zM38.29 594.51h2.07v2.04h-2.07zM42.44 594.51h4.14v2.04h-4.14zM52.79 594.51h4.14v2.04h-4.14zM59.00 594.51h10.35v2.04h-10.35zM77.63 594.51h2.07v2.04h-2.07zM3.10 596.56h14.49v2.04h-14.49zM19.66 596.56h4.14v2.04h-4.14zM38.29 596.56h4.14v2.04h-4.14zM44.51 596.56h4.14v2.04h-4.14zM54.86 596.56h6.21v2.04h-6.21zM63.14 596.56h2.07v2.04h-2.07zM69.35 596.56h2.07v2.04h-2.07zM75.56 596.56h4.14v2.04h-4.14z" fill="#0a0a0a" shape-rendering="crispEdges"/>
<rect x="30.5" y="549.5" width="21.5" height="22.5" rx="1.5" fill="#fdfdfd"/>
<g transform="translate(32.4,551.2) scale(0.155)">
<defs>
<clipPath id="q0"><path d="M63.9 51.9 C65.5 45 65 30 61 22 C57 14.5 50 12.5 45 12.7 C36 13.2 29.5 21 29.9 29.5 C30.2 36 36 40 43.3 43.3 C50 46.5 58 50.5 61.5 52.6 C62.8 53.3 63.7 52.8 63.9 51.9 Z"/></clipPath>
<clipPath id="q1"><path d="M57.6 60.5 C57 58.5 50 55 43.3 52.8 C36 50.5 28 49.8 22.2 50.9 C14 52.5 9.5 58 9.6 65 C9.8 72 14 78 21 80.3 C27 82.2 33 81.5 38 78.5 C45 74 52 67 57 62.2 C57.7 61.5 57.8 61 57.6 60.5 Z"/></clipPath>
<clipPath id="q2"><path d="M60.3 71.8 C61.2 75 61.3 88 60 96 C58.8 103 55 110 48.5 112.8 C43 115 36 113.5 31 109.5 C26 105 24 99 25.2 94 C26.5 88.5 32 83.5 38 80.3 C44 77 53 73.5 58.2 71.5 C59.3 71 60 71.2 60.3 71.8 Z"/></clipPath>
<clipPath id="q3"><path d="M62.5 65.5 C63 64 68 63.8 74 64.3 C84 65.2 95 70 101 75.5 C106 80.5 107 87 104 92.5 C101 97.5 95 99.5 89.5 98 C83 96.3 78 90.5 73.5 84 C69.5 78 65 70.5 62.8 67 C62.4 66.4 62.3 66 62.5 65.5 Z"/></clipPath>
</defs>
<g clip-path="url(#q0)">
<rect x="0" y="0" width="120" height="120" fill="#17569b"/>
<circle cx="55.7" cy="64.3" r="29" fill="#1f80cd"/>
<circle cx="55.7" cy="64.3" r="19" fill="#7dc0ee"/>
</g>
<g clip-path="url(#q1)">
<rect x="0" y="0" width="120" height="120" fill="#17569b"/>
<circle cx="55.7" cy="64.3" r="38" fill="#1a68b3"/>
<circle cx="55.7" cy="64.3" r="31" fill="#1f80cd"/>
<circle cx="55.7" cy="64.3" r="19" fill="#7dc0ee"/>
</g>
<g clip-path="url(#q2)">
<rect x="0" y="0" width="120" height="120" fill="#17569b"/>
<circle cx="55.7" cy="64.3" r="36" fill="#1f80cd"/>
<circle cx="55.7" cy="64.3" r="19" fill="#7dc0ee"/>
</g>
<g clip-path="url(#q3)">
<rect x="0" y="0" width="120" height="120" fill="#17569b"/>
<circle cx="55.7" cy="64.3" r="31" fill="#1f80cd"/>
<circle cx="55.7" cy="64.3" r="20" fill="#7dc0ee"/>
</g>
</g>
<rect x="0" y="0" width="1025" height="1" fill="#8c8c8c"/>
<rect x="0" y="0" width="1" height="601" fill="#8c8c8c"/>
<rect x="1023" y="0" width="2" height="89" fill="#c4c4c4"/>
<rect x="1023" y="89" width="2" height="41" fill="#3a4d68"/>
<rect x="1023" y="130" width="2" height="471" fill="#9a9a9a"/>
<rect x="0" y="599" width="1025" height="2" fill="#b0b0b0"/>
</svg>
<div class="t" style="left:312.2px;top:31.0px;font-size:36.7px;transform:scale(1,0.98);transform-origin:0 0;letter-spacing:1.3px;">循诺冷却水智能管理系统</div>
<div class="t" style="left:471.2px;top:93.6px;font-size:15.6px;transform:scale(0.72,1);transform-origin:0 0;letter-spacing:2.4px;">SINO</div>
<div class="t" style="left:541.4px;top:95.2px;font-size:16px;transform:scale(1,0.95);transform-origin:0 0;">已登录</div>
<div class="t" style="left:664.2px;top:93.8px;font-size:16.6px;transform:scale(0.87,1);transform-origin:0 0;">2022</div>
<div class="t" style="left:698.6px;top:94.0px;font-size:16.6px;transform:scale(2.1,1);transform-origin:0 0;">-</div>
<div class="t" style="left:710.2px;top:93.8px;font-size:16.6px;transform:scale(0.87,1);transform-origin:0 0;">06</div>
<div class="t" style="left:725.5px;top:94.0px;font-size:16.6px;transform:scale(2.1,1);transform-origin:0 0;">-</div>
<div class="t" style="left:737.1px;top:93.8px;font-size:16.6px;transform:scale(0.87,1);transform-origin:0 0;">30</div>
<div class="t" style="left:765.8px;top:93.8px;font-size:16.6px;transform:scale(0.87,1);transform-origin:0 0;">08</div>
<div class="t" style="left:787.6px;top:93.8px;font-size:16.6px;transform:scale(0.87,1);transform-origin:0 0;">:</div>
<div class="t" style="left:792.7px;top:93.8px;font-size:16.6px;transform:scale(0.87,1);transform-origin:0 0;">06</div>
<div class="t" style="left:813.6px;top:93.8px;font-size:16.6px;transform:scale(0.87,1);transform-origin:0 0;">:</div>
<div class="t" style="left:819.2px;top:93.8px;font-size:16.6px;transform:scale(0.87,1);transform-origin:0 0;">24</div>
<div class="t" style="left:41.2px;top:183.3px;font-size:20px;transform:scale(1,0.96);transform-origin:0 0;letter-spacing:2px;-webkit-text-stroke:0.25px #000;">排污</div>
<div class="t" style="left:30.6px;top:238.3px;font-size:20px;transform:scale(1,0.96);transform-origin:0 0;letter-spacing:2px;-webkit-text-stroke:0.25px #000;">阻垢剂</div>
<div class="t" style="left:30.6px;top:293.3px;font-size:20px;transform:scale(1,0.96);transform-origin:0 0;letter-spacing:2px;-webkit-text-stroke:0.25px #000;">缓蚀剂</div>
<div class="t" style="left:30.6px;top:348.3px;font-size:20px;transform:scale(1,0.96);transform-origin:0 0;letter-spacing:2px;-webkit-text-stroke:0.25px #000;">杀菌剂</div>
<div class="t" style="left:18.6px;top:403.3px;font-size:20px;transform:scale(1,0.96);transform-origin:0 0;letter-spacing:2px;-webkit-text-stroke:0.25px #000;"><span style="display:inline-block;font-size:21.5px;letter-spacing:0;width:23px;transform:scale(0.78,0.99);transform-origin:0 60%;-webkit-text-stroke:0;">pH</span>调节剂</div>
<div class="t" style="left:304.2px;top:205.0px;font-size:20px;transform:scale(1,0.96);transform-origin:0 0;letter-spacing:2px;-webkit-text-stroke:0.25px #000;">回水</div>
<div class="t" style="left:303.2px;top:360.5px;font-size:20px;transform:scale(1,0.96);transform-origin:0 0;letter-spacing:2px;-webkit-text-stroke:0.25px #000;">补水</div>
<div class="t" style="left:583.2px;top:356.5px;font-size:20px;transform:scale(1,0.96);transform-origin:0 0;letter-spacing:2px;-webkit-text-stroke:0.25px #000;">供水</div>
<div class="t c" style="left:601px;width:300px;top:177px;font-size:30px;">TRACER</div>
<div class="t c" style="left:601px;width:300px;top:232.8px;font-size:21.5px;">39.6</div>
<div class="t c" style="left:601px;width:300px;top:273.5px;font-size:21.5px;transform:scale(0.97,1);transform-origin:50% 0;">ppm</div>
<div class="t c" style="left:770px;width:300px;top:177px;font-size:30px;">pH</div>
<div class="t c" style="left:770px;width:300px;top:232.8px;font-size:21.5px;">7.88</div>
<div class="t c" style="left:601px;width:300px;top:333px;font-size:30px;transform:scale(0.948,1);transform-origin:50% 0;">Conductivity</div>
<div class="t c" style="left:601px;width:300px;top:380.8px;font-size:21.5px;">1610</div>
<div class="t c" style="left:601px;width:300px;top:423px;font-size:21.5px;transform:scale(0.98,1);transform-origin:50% 0;">uS/cm</div>
<div class="t c" style="left:770.5px;width:300px;top:333px;font-size:30px;">ORP</div>
<div class="t c" style="left:770px;width:300px;top:380.8px;font-size:21.5px;">298.0</div>
<div class="t c" style="left:770px;width:300px;top:423px;font-size:21.5px;">mV</div>
<div class="t" style="left:357.8px;top:502.5px;font-size:23px;transform:scale(1,0.97);transform-origin:0 0;letter-spacing:1px;-webkit-text-stroke:0.3px #000;">远程联锁</div>
<div class="t" style="left:481.8px;top:502.5px;font-size:23px;transform:scale(1,0.97);transform-origin:0 0;letter-spacing:1px;-webkit-text-stroke:0.3px #000;">正常</div>
<div class="t" style="left:575.6px;top:502.5px;font-size:23px;transform:scale(1,0.97);transform-origin:0 0;letter-spacing:1px;-webkit-text-stroke:0.3px #000;">流量开关</div>
<div class="t" style="left:694.6px;top:502.5px;font-size:23px;transform:scale(1,0.97);transform-origin:0 0;letter-spacing:1px;-webkit-text-stroke:0.3px #000;">有流量</div>
<div class="t" style="left:793px;top:499px;font-size:24px;">Temp</div>
<div class="t" style="left:882px;top:499px;font-size:24px;">32.50</div>
<div class="t" style="left:951px;top:500px;font-size:24px;">℃</div>
<div class="btn" style="left:282px"><span>手动界面</span></div>
<div class="btn" style="left:406px"><span>曲线查看</span></div>
<div class="btn" style="left:530px"><span>报警查看</span></div>
<div class="btn" style="left:654px"><span>高级设置</span></div>
<div class="btn" style="left:778px"><span>冷态运行</span></div>
<div class="btn" style="left:902px"><span>退出登录</span></div>

</body></html>
